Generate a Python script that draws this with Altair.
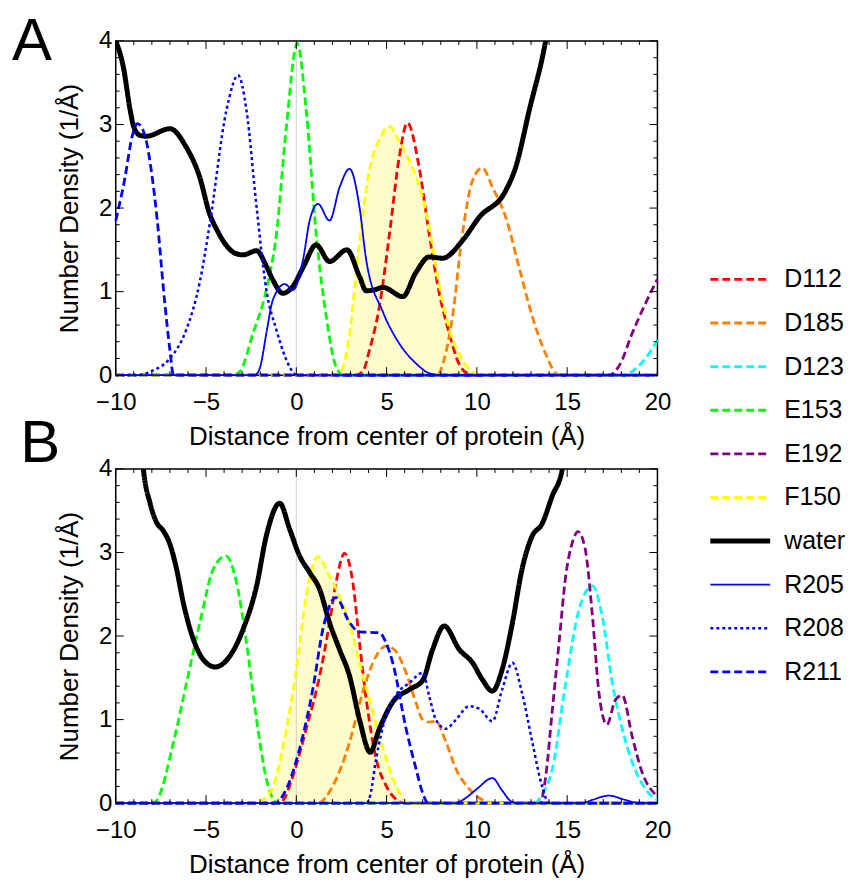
import altair as alt
import pandas as pd

FONT = "Liberation Sans"

SERIES = ["D112", "D185", "D123", "E153", "E192", "F150", "water", "R205", "R208", "R211"]
COLORS = ["#FF0000", "#FF8000", "#00FFFF", "#00FF00", "#800080", "#FFFF00",
          "#000000", "#0000FF", "#0000FF", "#0000FF"]
DASHES = [[8, 4]] * 6 + [[1, 0], [1, 0], [3, 3], [8, 4]]
WIDTHS = [2.8] * 6 + [5, 1.8, 2.5, 2.8]
FILL = "#FFFCCB"

X_TICKS = [-10, -5, 0, 5, 10, 15, 20]
Y_TICKS = [0, 1, 2, 3, 4]
XTITLE = "Distance from center of protein (Å)"
YTITLE = "Number Density (1/Å)"

# ---------------- Panel A ----------------
A_D112 = [(-10, 0), (3.3, 0), (3.7, 0.05), (4.05, 0.3), (4.6, 0.82), (5.16, 1.69), (5.7, 2.61),
          (6.15, 3.02), (6.8, 2.49), (7.36, 1.69), (7.92, 0.98), (8.47, 0.5), (9.0, 0.14),
          (9.5, 0.02), (10, 0), (20, 0)]
A_D185 = [(-10, 0), (7.8, 0), (8.2, 0.2), (8.65, 0.7), (9.2, 1.69), (9.76, 2.33), (10.3, 2.48),
          (10.86, 2.25), (11.6, 1.89), (12.34, 1.29), (13.07, 0.7), (13.8, 0.26), (14.4, 0.02),
          (14.8, 0), (20, 0)]
A_D123 = [(-10, 0), (18.2, 0), (18.8, 0.08), (19.34, 0.2), (20, 0.42)]
A_E153 = [(-10, 0), (-3.5, 0), (-3.1, 0.05), (-2.4, 0.5), (-1.66, 1.02), (-1.1, 1.69),
          (-0.55, 2.97), (0.05, 3.97), (0.55, 3.17), (1.1, 1.69), (1.66, 0.7), (2.2, 0.1),
          (2.6, 0), (20, 0)]
A_E192 = [(-10, 0), (17.3, 0), (17.9, 0.12), (18.6, 0.5), (19.34, 0.86), (20, 1.15)]
A_F150 = [(-10, 0), (2.2, 0), (2.5, 0.05), (2.95, 0.5), (3.5, 1.6), (4.05, 2.45), (4.6, 2.82),
          (5.15, 2.98), (5.7, 2.8), (6.4, 2.5), (6.9, 2.2), (7.36, 1.77), (7.9, 1.1), (8.5, 0.54),
          (9.2, 0.18), (10, 0.02), (10.5, 0), (20, 0)]
A_water = [(-10, 4.0), (-9.58, 3.69), (-9.2, 3.17), (-9.0, 2.97), (-8.65, 2.87), (-8.3, 2.86),
           (-7.0, 2.95), (-6.1, 2.73), (-5.35, 2.37), (-4.8, 1.93), (-4.4, 1.74), (-3.9, 1.56),
           (-3.4, 1.46), (-2.95, 1.44), (-2.2, 1.49), (-1.65, 1.3), (-1.3, 1.14), (-0.75, 0.98),
           (-0.2, 1.06), (0.4, 1.3), (1.1, 1.56), (1.84, 1.36), (2.8, 1.5), (3.5, 1.18),
           (3.87, 1.01), (4.3, 1.02), (4.8, 1.05), (5.9, 0.94), (6.6, 1.22), (7.36, 1.415),
           (8.1, 1.4), (9.2, 1.61), (10.13, 1.89), (11.6, 2.21), (12.15, 2.49), (12.9, 3.17),
           (13.8, 3.99), (14.2, 4.5)]
A_R205 = [(-10, 0), (-2.3, 0), (-2.0, 0.1), (-1.66, 0.5), (-1.3, 0.9), (-0.64, 1.09),
          (-0.18, 1.02), (0.37, 1.38), (0.74, 1.85), (1.2, 2.05), (1.84, 1.85), (2.4, 2.25),
          (2.95, 2.47), (3.5, 2.01), (3.87, 1.38), (4.79, 0.76), (5.7, 0.38), (6.63, 0.14),
          (7.4, 0.02), (8, 0), (20, 0)]
A_R208 = [(-10, 0), (-8.8, 0), (-8.0, 0.05), (-7.0, 0.2), (-6.1, 0.54), (-5.34, 1.12),
          (-4.8, 1.8), (-3.87, 3.17), (-3.22, 3.59), (-2.76, 3.17), (-2.2, 2.01), (-1.66, 1.02),
          (-1.1, 0.54), (-0.37, 0.1), (0, 0), (20, 0)]
A_R211 = [(-10, 1.85), (-9.5, 2.35), (-9.1, 2.85), (-8.8, 3.01), (-8.4, 2.88), (-8.0, 2.4),
          (-7.7, 1.85), (-7.3, 0.9), (-7.0, 0.3), (-6.8, 0), (20, 0)]

# ---------------- Panel B ----------------
B_D112 = [(-10, 0), (-1.0, 0), (-0.74, 0.03), (-0.18, 0.33), (0.55, 0.89), (1.29, 1.52),
          (1.84, 2.16), (2.2, 2.64), (2.67, 2.99), (3.13, 2.64), (3.5, 1.92), (3.87, 1.25),
          (4.42, 0.53), (4.97, 0.21), (5.5, 0.05), (6, 0), (20, 0)]
B_D185 = [(-10, 0), (1.2, 0), (2.03, 0.21), (2.95, 0.73), (3.68, 1.33), (4.24, 1.68),
          (4.97, 1.88), (5.5, 1.82), (6.08, 1.56), (6.63, 1.2), (7.0, 1.0), (7.36, 0.97),
          (7.73, 0.98), (8.29, 0.73), (8.84, 0.41), (9.57, 0.17), (10.5, 0.02), (11, 0), (20, 0)]
B_D123 = [(-10, 0), (13.2, 0), (13.6, 0.1), (14.18, 0.41), (14.92, 1.44), (15.66, 2.32),
          (16.4, 2.6), (16.94, 2.24), (17.5, 1.44), (18.05, 0.89), (18.6, 0.49), (19.34, 0.17),
          (19.9, 0.05), (20, 0.04)]
B_E153 = [(-10, 0), (-8.0, 0), (-7.74, 0.03), (-6.8, 0.73), (-6.08, 1.44), (-5.34, 2.16),
          (-4.6, 2.8), (-3.9, 2.96), (-3.31, 2.64), (-2.76, 1.92), (-2.2, 1.0), (-1.66, 0.29),
          (-1.29, 0.05), (-1.0, 0), (20, 0)]
B_E192 = [(-10, 0), (13.5, 0), (13.8, 0.3), (14.18, 1.12), (14.55, 1.92), (14.92, 2.72),
          (15.29, 3.12), (15.6, 3.25), (16.0, 3.04), (16.4, 2.24), (16.76, 1.32), (17.2, 0.94),
          (17.68, 1.24), (18.05, 1.29), (18.6, 0.8), (19.15, 0.37), (19.9, 0.1), (20, 0.08)]
B_F150 = [(-10, 0), (-2.2, 0), (-2.0, 0.02), (-1.29, 0.2), (-0.55, 0.89), (0, 1.6),
          (0.55, 2.48), (1.2, 2.95), (1.84, 2.72), (2.39, 2.48), (2.95, 2.16), (3.5, 1.68),
          (4.05, 1.25), (4.6, 0.81), (5.16, 0.41), (5.7, 0.13), (6.08, 0.02), (6.5, 0), (20, 0)]
B_water = [(-8.7, 4.6), (-8.47, 4.0), (-8.1, 3.59), (-7.74, 3.36), (-7.37, 3.26), (-7.0, 3.1),
           (-6.63, 2.8), (-6.26, 2.4), (-5.7, 1.96), (-5.16, 1.72), (-4.5, 1.63), (-3.68, 1.76),
           (-2.95, 2.08), (-2.2, 2.6), (-1.66, 3.2), (-0.92, 3.59), (-0.37, 3.28), (0.18, 2.96),
           (0.74, 2.76), (1.29, 2.56), (1.84, 2.16), (2.39, 1.84), (2.95, 1.52), (3.5, 1.0),
           (4.09, 0.61), (4.6, 0.89), (5.34, 1.21), (6.26, 1.36), (7.0, 1.47), (7.55, 1.84),
           (8.19, 2.12), (9.02, 1.84), (9.76, 1.68), (10.3, 1.48), (10.86, 1.34), (11.4, 1.6),
           (11.97, 2.16), (12.5, 2.8), (13.07, 3.2), (13.6, 3.34), (14.18, 3.68), (14.73, 4.0),
           (15.0, 4.5)]
B_R205 = [(-10, 0), (8.8, 0), (9.3, 0.05), (10.0, 0.17), (10.86, 0.3), (11.4, 0.15),
          (11.9, 0.02), (12.2, 0), (15.8, 0), (16.4, 0.04), (17.3, 0.09), (18.2, 0.04),
          (19, 0), (20, 0)]
B_R208 = [(-10, 0), (3.9, 0), (4.1, 0.1), (4.42, 0.53), (4.97, 1.05), (5.5, 1.29), (6.26, 1.44),
          (7.0, 1.56), (7.36, 1.28), (7.73, 1.0), (8.29, 0.89), (8.84, 1.0), (9.57, 1.16),
          (10.13, 1.13), (10.86, 0.98), (11.4, 1.36), (11.97, 1.68), (12.5, 1.32), (13.07, 0.73),
          (13.6, 0.21), (14.0, 0), (20, 0)]
B_R211 = [(-10, 0), (-1.2, 0), (-0.55, 0.17), (0.18, 0.65), (0.92, 1.37), (1.47, 2.08),
          (2.2, 2.46), (2.95, 2.16), (3.5, 2.05), (4.6, 2.04), (4.97, 1.92), (5.34, 1.68),
          (6.08, 0.89), (6.63, 0.41), (7.0, 0.12), (7.3, 0), (20, 0)]

PANEL_A = dict(zip(SERIES, [A_D112, A_D185, A_D123, A_E153, A_E192, A_F150, A_water,
                            A_R205, A_R208, A_R211]))
PANEL_B = dict(zip(SERIES, [B_D112, B_D185, B_D123, B_E153, B_E192, B_F150, B_water,
                            B_R205, B_R208, B_R211]))


def long_df(panel):
    rows = []
    for s, pts in panel.items():
        for x, y in pts:
            rows.append({"series": s, "x": x, "y": y, "w": WIDTHS[SERIES.index(s)]})
    return pd.DataFrame(rows)


W, H = 543, 335

# frame ticks (inside, Mathematica style), lengths converted from pixels to data units
def tick_df():
    rows = []
    ux, uy = 30.0 / W, 4.0 / H
    for v in range(-10, 21):
        L = (8 if v % 5 == 0 else 4) * uy
        rows.append({"x": v, "x2": v, "y": 0, "y2": L})
        rows.append({"x": v, "x2": v, "y": 4, "y2": 4 - L})
    for k in range(0, 21):
        v = k * 0.2
        L = (8 if k % 5 == 0 else 4) * ux
        rows.append({"x": -10, "x2": -10 + L, "y": v, "y2": v})
        rows.append({"x": 20, "x2": 20 - L, "y": v, "y2": v})
    return pd.DataFrame(rows)


x_scale = alt.Scale(domain=[-10, 20], nice=False, zero=False)
y_scale = alt.Scale(domain=[0, 4], nice=False, zero=False)

X = alt.X("x:Q", scale=x_scale,
          axis=alt.Axis(values=X_TICKS, title=XTITLE, labelFlush=False, labelFontSize=24,
                        titleFontSize=26, labelPadding=15, titlePadding=10, ticks=False,
                        tickSize=0, domain=False, grid=False, titleFontWeight="normal",
                        labelColor="black", titleColor="black", labelFont=FONT,
                        titleFont=FONT, labelOverlap=False))
Y = alt.Y("y:Q", scale=y_scale,
          axis=alt.Axis(values=Y_TICKS, title=YTITLE, labelFontSize=24, titleFontSize=26,
                        labelPadding=4, titlePadding=16, ticks=False, tickSize=0,
                        domain=False, grid=False, titleFontWeight="normal", format="d",
                        labelColor="black", titleColor="black", labelFont=FONT,
                        titleFont=FONT, labelOverlap=False))
COLOR = alt.Color("series:N", scale=alt.Scale(domain=SERIES, range=COLORS), legend=None)
DASH = alt.StrokeDash("series:N", scale=alt.Scale(domain=SERIES, range=DASHES), legend=None)
WIDTH = alt.StrokeWidth("w:Q", scale=None)


def panel(df, label, lx, ly):
    base = alt.Chart(df)
    area = base.transform_filter(alt.datum.series == "F150").mark_area(
        interpolate="monotone", color=FILL, opacity=1).encode(x=X, y=Y)
    zero = alt.Chart(pd.DataFrame({"x": [0.0]})).mark_rule(
        color="#cfcfcf", strokeWidth=1).encode(x=X)
    g1 = base.transform_filter(
        alt.FieldOneOfPredicate(field="series", oneOf=SERIES[:6])).mark_line(
        interpolate="monotone").encode(x=X, y=Y, color=COLOR, strokeDash=DASH, strokeWidth=WIDTH)
    water = base.transform_filter(alt.datum.series == "water").mark_line(
        interpolate="monotone", clip=True).encode(x=X, y=Y, color=COLOR, strokeDash=DASH,
                                                  strokeWidth=WIDTH)
    g3 = base.transform_filter(
        alt.FieldOneOfPredicate(field="series", oneOf=SERIES[7:])).mark_line(
        interpolate="monotone").encode(x=X, y=Y, color=COLOR, strokeDash=DASH, strokeWidth=WIDTH)
    ticks = alt.Chart(tick_df()).mark_rule(color="black", strokeWidth=1).encode(
        x=X, x2="x2:Q", y=Y, y2="y2:Q")
    lab = alt.Chart(pd.DataFrame({"t": [label]})).mark_text(
        font=FONT, fontSize=60, align="left", baseline="alphabetic", color="black").encode(
        text="t:N", x=alt.value(lx), y=alt.value(ly))
    return alt.layer(area, zero, g1, water, g3, ticks, lab)


leg_df = pd.DataFrame({"series": SERIES, "idx": list(range(len(SERIES))), "w": WIDTHS})
LY = alt.Y("idx:Q", scale=alt.Scale(domain=[0, 9], range=[239.0, 632.5]), axis=None)
leg_rule = alt.Chart(leg_df).mark_rule().encode(
    x=alt.value(596), x2=alt.value(656), y=LY, color=COLOR, strokeDash=DASH, strokeWidth=WIDTH)
leg_text = alt.Chart(leg_df).mark_text(
    font=FONT, fontSize=25, align="left", baseline="middle", color="black").encode(
    x=alt.value(670), y=LY, text="series:N")

A = alt.layer(panel(long_df(PANEL_A), "A", -104, 19.3), leg_rule, leg_text).resolve_scale(
    y="independent").properties(width=W, height=H)
B = panel(long_df(PANEL_B), "B", -95.7, -7.3).properties(width=W, height=H)

chart = alt.vconcat(A, B, spacing=94, bounds="flush").properties(
    padding={"left": 3, "top": 2, "right": 0, "bottom": 0}
).configure_view(stroke="black", strokeWidth=1.5)

chart.save("out.html", embed_options={"renderer": "svg", "actions": False})
